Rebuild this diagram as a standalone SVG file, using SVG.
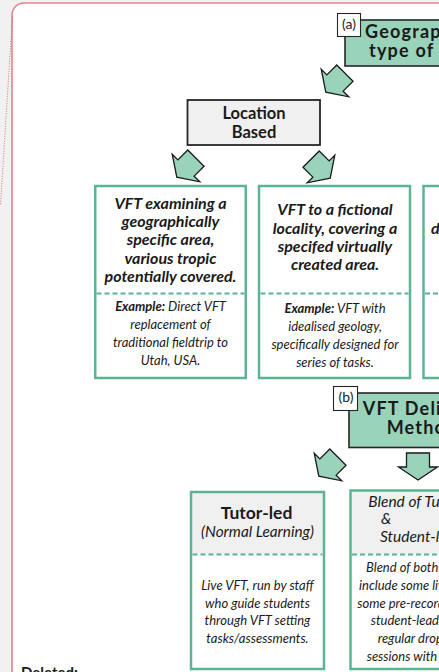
<svg xmlns="http://www.w3.org/2000/svg" width="439" height="672" viewBox="0 0 439 672">
<style>
.t{font-family:Lato,"Open Sans","Liberation Sans",sans-serif;fill:#1a1a1a}
.b{font-weight:bold}
.i{font-style:italic}
.h{font-size:18px;letter-spacing:1.2px;font-weight:bold}
.hdr{fill:#99d3b9;stroke:#262626;stroke-width:1.6}
.lbl{fill:#ffffff;stroke:#262626;stroke-width:1.1}
.gbox{fill:#ffffff;stroke:#5bb592;stroke-width:2.5}
.gedge{fill:none;stroke:#5bb592;stroke-width:2.5}
.dash{stroke:#5bb592;stroke-width:2.2;stroke-dasharray:5 3;fill:none}
.arr{fill:#99d3b9;stroke:#1a1a1a;stroke-width:1.3;stroke-linejoin:miter}
</style>
<defs>
<path id="darrow" d="M-11.5,-14 L11.5,-14 L11.5,0 L19.5,0 L0,13 L-19.5,0 L-11.5,0 Z"/>
</defs>
<rect x="0" y="0" width="439" height="672" fill="#f1f1f1"/>
<rect x="12" y="3" width="520" height="720" rx="12" ry="12" fill="#ffffff" stroke="#e3848b" stroke-width="1.6"/>
<line x1="12.5" y1="16" x2="0.5" y2="205" stroke="#d9606b" stroke-width="0.9" stroke-dasharray="1 1.5"/>

<g id="connectors">
<use href="#darrow" class="arr" transform="translate(335,83) rotate(45)"/>
<use href="#darrow" class="arr" transform="translate(186,168) rotate(45)"/>
<use href="#darrow" class="arr" transform="translate(321,169) rotate(-45)"/>
<use href="#darrow" class="arr" transform="translate(328,467) rotate(45)"/>
<use href="#darrow" class="arr" transform="translate(418,467)"/>
</g>

<g id="node-geo-type">
<rect class="hdr" x="345" y="20" width="130" height="46"/>
<text class="t h" x="365" y="37.5">Geographical</text>
<text class="t h" x="369" y="56.5">type of VFT</text>
<rect class="lbl" x="337.5" y="13.5" width="23" height="23"/>
<text class="t" x="349" y="29" font-size="14" text-anchor="middle">(a)</text>
</g>

<g id="node-location">
<rect x="187.5" y="100" width="132.5" height="45" fill="#f0f0f0" stroke="#262626" stroke-width="1.8"/>
<text class="t b" x="254" y="118.5" font-size="16.5" text-anchor="middle">Location</text>
<text class="t b" x="254" y="137.5" font-size="16.5" text-anchor="middle">Based</text>
</g>

<g id="node-specific">
<rect class="gbox" x="95.25" y="186" width="150.5" height="192"/>
<line class="dash" x1="96.5" y1="293.5" x2="244.5" y2="293.5"/>
<g class="t b i" font-size="16" text-anchor="middle">
<text x="170.5" y="208.5">VFT examining a</text>
<text x="170.5" y="227">geographically</text>
<text x="170.5" y="245">specific area,</text>
<text x="170.5" y="263.5">various tropic</text>
<text x="170.5" y="281.7">potentially covered.</text>
</g>
<g class="t i" font-size="13" text-anchor="middle">
<text x="170.5" y="311"><tspan font-weight="bold">Example:</tspan> Direct VFT</text>
<text x="170.5" y="329">replacement of</text>
<text x="170.5" y="347">traditional fieldtrip to</text>
<text x="170.5" y="365">Utah, USA.</text>
</g>
</g>

<g id="node-fictional">
<rect class="gbox" x="259" y="186" width="151" height="192"/>
<line class="dash" x1="260.5" y1="293.5" x2="408.5" y2="293.5"/>
<g class="t b i" font-size="16" text-anchor="middle">
<text x="335" y="215">VFT to a fictional</text>
<text x="335" y="233.5">locality, covering a</text>
<text x="335" y="251.7">specifed virtually</text>
<text x="335" y="270">created area.</text>
</g>
<g class="t i" font-size="13" text-anchor="middle">
<text x="335" y="312.5"><tspan font-weight="bold">Example:</tspan> VFT with</text>
<text x="335" y="330.7">idealised geology,</text>
<text x="335" y="348.5">specifically designed for</text>
<text x="335" y="366.5">series of tasks.</text>
</g>
</g>

<g id="node-third">
<rect class="gbox" x="423.5" y="186" width="100" height="192"/>
<line class="dash" x1="425" y1="293.5" x2="439" y2="293.5"/>
<text class="t b i" x="431" y="233.5" font-size="16">d</text>
</g>

<g id="node-delivery">
<rect class="hdr" x="349" y="393" width="130" height="54.5"/>
<text class="t h" x="362.7" y="415">VFT Delivery</text>
<text class="t h" x="386.7" y="434.3">Method</text>
<rect class="lbl" x="333.5" y="386.5" width="24" height="24"/>
<text class="t" x="346" y="402" font-size="14" text-anchor="middle">(b)</text>
</g>

<g id="node-tutor">
<rect x="191" y="492" width="133" height="62" fill="#f0f0f0"/>
<rect class="gedge" x="191" y="492" width="133" height="177"/>
<line class="dash" x1="192.5" y1="554.5" x2="322.5" y2="554.5"/>
<text class="t b" x="256.5" y="518.5" font-size="17.5" text-anchor="middle">Tutor-led</text>
<text class="t i" x="257.5" y="536.7" font-size="15.3" text-anchor="middle">(Normal Learning)</text>
<g class="t i" font-size="13" text-anchor="middle">
<text x="257.5" y="590">Live VFT, run by staff</text>
<text x="257.5" y="607.7">who guide students</text>
<text x="257.5" y="625.3">through VFT setting</text>
<text x="257.5" y="643.3">tasks/assessments.</text>
</g>
</g>

<g id="node-blend">
<rect x="350.5" y="490.5" width="140" height="64" fill="#f0f0f0"/>
<rect class="gedge" x="350.5" y="490.5" width="140" height="178.5"/>
<line class="dash" x1="352" y1="554.5" x2="439" y2="554.5"/>
<g class="t i" font-size="15.5">
<text x="368.3" y="507.3">Blend of Tutor-led</text>
<text x="381" y="524.3">&amp;</text>
<text x="380" y="541.7">Student-led</text>
</g>
<g class="t i" font-size="13">
<text x="366" y="571.7">Blend of both; may</text>
<text x="359" y="590">include some live,</text>
<text x="357.3" y="607.7">some pre-recorded,</text>
<text x="370.7" y="625.3">student-lead, with</text>
<text x="377.7" y="643">regular drop-in</text>
<text x="366.7" y="660.7">sessions with staff.</text>
</g>
</g>

<text class="t b" x="21" y="678" font-size="15">Deleted:</text>
</svg>
